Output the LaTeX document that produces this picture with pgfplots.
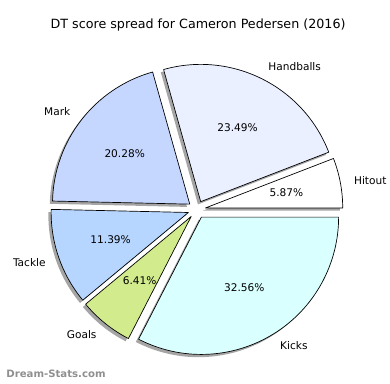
\documentclass[border=0pt]{standalone}
\usepackage{pgfplots}
\usepackage{pgfplotstable}
\pgfplotsset{compat=1.18}
\usepackage{fontspec}
\setmainfont{DejaVu Sans}
\definecolor{cHit}{HTML}{FFFFFF}
\definecolor{cHand}{HTML}{EAF0FF}
\definecolor{cMark}{HTML}{C6D7FF}
\definecolor{cTack}{HTML}{B6D6FF}
\definecolor{cGoal}{HTML}{D1EB8D}
\definecolor{cKick}{HTML}{DAFFFF}
\definecolor{wm}{HTML}{8F8F8F}

\pgfplotstableread{
label value color
Hitout 5.87 cHit
Handballs 23.49 cHand
Mark 20.28 cMark
Tackle 11.39 cTack
Goals 6.41 cGoal
Kicks 32.56 cKick
}\piedata

% geometry (axis units = pt = px)
\def\cx{193.6}
\def\cy{177}
\def\R{139.5}
\def\ex{9}

\begin{document}
\def\cum{0}
\pgfplotsforeachungrouped \i in {0,...,5}{%
  \pgfplotstablegetelem{\i}{value}\of\piedata
  \let\v\pgfplotsretval
  \pgfmathsetmacro\a{\cum*3.6}%
  \pgfmathsetmacro\b{(\cum+\v)*3.6}%
  \pgfmathsetmacro\m{(\a+\b)/2}%
  \pgfmathsetmacro\ax{\cx+\ex*cos(\m)}%
  \pgfmathsetmacro\ay{\cy+\ex*sin(\m)}%
  \pgfmathsetmacro\lx{\cx+(\ex+1.1*\R)*cos(\m)}%
  \pgfmathsetmacro\ly{\cy+(\ex+1.1*\R)*sin(\m)}%
  \pgfmathsetmacro\px{\cx+(\ex+0.6*\R)*cos(\m)}%
  \pgfmathsetmacro\py{\cy+(\ex+0.6*\R)*sin(\m)}%
  \pgfmathparse{cos(\m)>0 ? "west" : "east"}\let\anc\pgfmathresult
  \expandafter\xdef\csname sA\i\endcsname{\a}%
  \expandafter\xdef\csname eA\i\endcsname{\b}%
  \expandafter\xdef\csname ax\i\endcsname{\ax}%
  \expandafter\xdef\csname ay\i\endcsname{\ay}%
  \expandafter\xdef\csname lx\i\endcsname{\lx}%
  \expandafter\xdef\csname ly\i\endcsname{\ly}%
  \expandafter\xdef\csname px\i\endcsname{\px}%
  \expandafter\xdef\csname py\i\endcsname{\py}%
  \expandafter\xdef\csname an\i\endcsname{\anc}%
  \expandafter\xdef\csname pc\i\endcsname{\v}%
  \pgfplotstablegetelem{\i}{label}\of\piedata
  \expandafter\xdef\csname lb\i\endcsname{\pgfplotsretval}%
  \pgfplotstablegetelem{\i}{color}\of\piedata
  \expandafter\xdef\csname co\i\endcsname{\pgfplotsretval}%
  \pgfmathsetmacro\cum{\cum+\v}%
  \global\let\cum\cum
}
\begin{tikzpicture}
\begin{axis}[
  at={(0,0)}, anchor=south west,
  width=390pt, height=390pt, scale only axis,
  xmin=0, xmax=390, ymin=0, ymax=390,
  hide axis, clip=false,
]
% shadows
\pgfplotsinvokeforeach{0,...,5}{%
  \edef\tmp{\noexpand\fill[black!70, opacity=0.5, xshift=-2.8pt, yshift=-2.8pt]
    (axis cs:\csname ax#1\endcsname,\csname ay#1\endcsname)
    -- ++(\csname sA#1\endcsname:\R pt)
    arc[start angle=\csname sA#1\endcsname, end angle=\csname eA#1\endcsname, radius=\R pt] -- cycle;}\tmp
}
% wedges
\pgfplotsinvokeforeach{0,...,5}{%
  \edef\tmp{\noexpand\filldraw[fill=\csname co#1\endcsname, draw=black, line width=0.7pt, line join=round]
    (axis cs:\csname ax#1\endcsname,\csname ay#1\endcsname)
    -- ++(\csname sA#1\endcsname:\R pt)
    arc[start angle=\csname sA#1\endcsname, end angle=\csname eA#1\endcsname, radius=\R pt] -- cycle;}\tmp
}
% labels
\pgfplotsinvokeforeach{0,...,5}{%
  \edef\tmp{\noexpand\node[anchor=\csname an#1\endcsname, inner sep=0pt, font=\noexpand\fontsize{10.75}{12}\noexpand\selectfont]
    at (axis cs:\csname lx#1\endcsname,\csname ly#1\endcsname) {\csname lb#1\endcsname};
   \noexpand\node[anchor=center, inner sep=0pt, font=\noexpand\fontsize{10.75}{12}\noexpand\selectfont]
    at (axis cs:\csname px#1\endcsname,\csname py#1\endcsname) {\csname pc#1\endcsname\noexpand\%};}\tmp
}
\node[font=\fontsize{12.9}{15}\selectfont, inner sep=0pt] at (axis cs:195,365) {DT score spread for Cameron Pedersen (2016)};
\node[font=\fontsize{10.3}{12}\selectfont\bfseries, text=wm, anchor=west, inner sep=0pt] at (axis cs:0,10) {Dream-Stats.com};
\end{axis}
\pgfresetboundingbox
\useasboundingbox (0,0) rectangle (390pt,390pt);
\end{tikzpicture}
\end{document}
